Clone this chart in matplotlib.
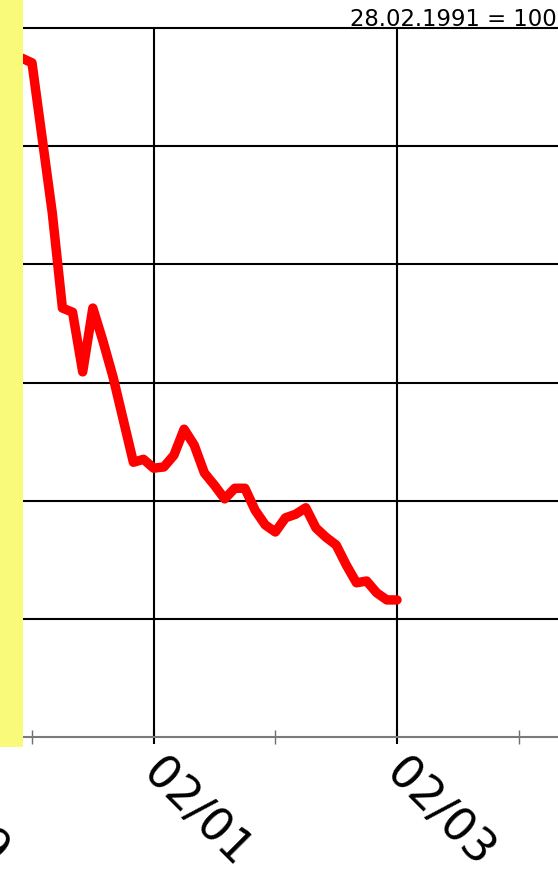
import matplotlib
matplotlib.use('Agg')
import matplotlib.pyplot as plt
import numpy as np
from matplotlib.transforms import ScaledTranslation
from matplotlib.patches import Rectangle

# Monthly index values, starting January 2000 (28.02.1991 = 100)
month_index = list(range(38))  # months since Jan 2000
values = [114.9, 114.1, 101.4, 88.7, 72.6, 71.9, 61.8, 72.6, 67.0, 60.9,
          53.7, 46.5, 47.0, 45.5, 45.7, 47.7, 52.1, 49.4, 44.7, 42.6,
          40.3, 42.1, 42.1, 38.4, 35.9, 34.7, 37.1, 37.7, 38.8, 35.4,
          33.8, 32.5, 29.1, 26.1, 26.4, 24.4, 23.2, 23.2]

major_ticks = [-11, 13, 37]          # Feb 1999, Feb 2001, Feb 2003
major_labels = ["02/99", "02/01", "02/03"]
minor_ticks = [1, 25, 49]            # Feb 2000, Feb 2002, Feb 2004
y_grid = [20, 40, 60, 80, 100]
title = "28.02.1991 = 100"

W, H = 558, 874
fig = plt.figure(figsize=(W / 100, H / 100), dpi=100)

L, R = -200, 720
top_px, bot_px = 28, 737
ax = fig.add_axes([L / W, (H - bot_px) / H, (R - L) / W, (bot_px - top_px) / H])

px_per_month = 10.139
x0 = 21.86
ax.set_xlim((L - x0) / px_per_month, (R - x0) / px_per_month)
ax.set_ylim(0, 120)

ax.plot(month_index, values, color='#ff0000', lw=6.8,
        solid_joinstyle='round', solid_capstyle='round', zorder=5)

ax.set_yticks(y_grid)
ax.tick_params(axis='y', length=0, labelleft=False)
ax.yaxis.grid(True, color='black', lw=1.5)

ax.set_xticks(major_ticks)
ax.set_xticklabels(major_labels)
ax.set_xticks(minor_ticks, minor=True)
ax.xaxis.grid(True, which='major', color='black', lw=1.5)
ax.tick_params(axis='x', which='major', direction='inout', length=10,
               width=1.5, color='black', labelsize=33, pad=16)
ax.tick_params(axis='x', which='minor', direction='inout', length=10,
               width=1, color='#707070')
for lab in ax.get_xticklabels():
    lab.set_rotation(-45)
    lab.set_rotation_mode('anchor')
    lab.set_ha('left')
    lab.set_va('center')
    lab.set_transform(lab.get_transform() + ScaledTranslation(-4 / 100, 0, fig.dpi_scale_trans))

ax.set_axisbelow(True)
for s in ['left', 'right']:
    ax.spines[s].set_visible(False)
ax.spines['top'].set_color('black')
ax.spines['top'].set_linewidth(1.5)
ax.spines['bottom'].set_color('#7a7a7a')
ax.spines['bottom'].set_linewidth(1.5)

rect = Rectangle((0, (H - 747) / H), 23 / W, 747 / H, transform=fig.transFigure,
                 facecolor='#F9F97A', edgecolor='none', zorder=10)
fig.add_artist(rect)

fig.text(557 / W, 1 - 26 / H, title, ha='right', va='baseline', fontsize=16.4)

fig.savefig('out.png', dpi=100)
